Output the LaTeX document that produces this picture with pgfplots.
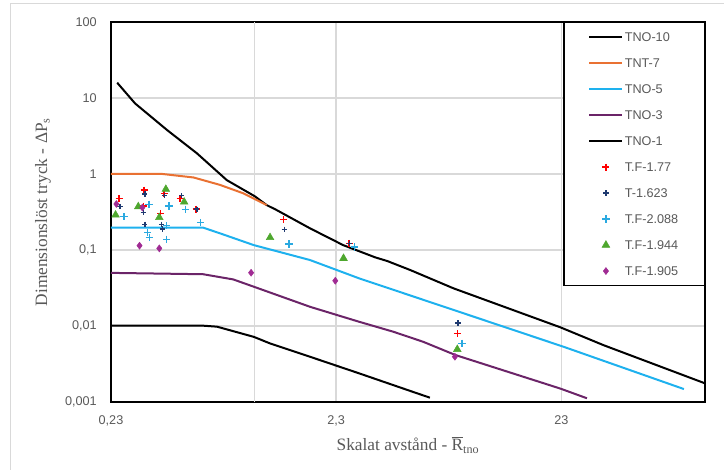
\documentclass[border=0pt]{standalone}
\usepackage{pgfplots}
\pgfplotsset{compat=1.18}
\usepackage{fontspec}
\setmainfont{Liberation Sans}
\newfontfamily\seriffont{Liberation Serif}
\definecolor{txtgray}{HTML}{595959}
\definecolor{gridgray}{HTML}{D9D9D9}
\definecolor{tntorange}{HTML}{E97132}
\definecolor{tnoblue}{HTML}{1EB1EE}
\definecolor{tnopurple}{HTML}{6B2468}
\definecolor{mred}{HTML}{FF0000}
\definecolor{mnavy}{HTML}{1F3A70}
\definecolor{mblue}{HTML}{2AA9E0}
\definecolor{mgreen}{HTML}{4EA72E}
\definecolor{mpurple}{HTML}{A02B93}
\pgfplotsset{
  mylegmark/.style={legend image code/.code={%
    \path[draw=none,fill=none] (0pt,-1pt) rectangle (24.75pt,1pt);
    \draw[##1, /tikz/only marks] plot coordinates {(12.375pt,0pt)};}},
}
\begin{document}
\begin{tikzpicture}
\useasboundingbox (0,0) rectangle (543pt,352.5pt);
\draw[gridgray, line width=0.75pt] (7.5pt,0pt) -- (7.5pt,349.5pt) -- (543pt,349.5pt);
\begin{axis}[
  at={(83.25pt,51pt)}, anchor=south west,
  scale only axis, width=445.5pt, height=285pt,
  xmode=log, ymode=log,
  xmin=0.23, xmax=100, ymin=0.001, ymax=100,
  xtick={0.23,2.3,23}, xticklabels={{0,23},{2,3},{23}},
  ytick={0.001,0.01,0.1,1,10,100},
  yticklabels={{0,001},{0,01},{0,1},{1},{10},{100}},
  minor xtick={}, minor ytick={},
  extra x ticks={1}, extra x tick labels={},
  extra x tick style={grid=major, major tick length=0pt},
  grid=major,
  major grid style={gridgray, line width=1pt},
  major tick length=0pt, minor tick length=0pt,
  axis line style={black, line width=1.5pt},
  tick label style={font=\fontsize{9.5}{11}\selectfont, text=txtgray},
  xticklabel style={inner sep=0pt, yshift=-10pt},
  yticklabel style={inner sep=0pt, xshift=-10.5pt},
  xlabel={\seriffont\fontsize{13}{15}\selectfont Skalat avstånd - $\overline{\mbox{R}}$\textsubscript{tno}},
  ylabel={\seriffont\fontsize{13}{15}\selectfont Dimensionslöst tryck - ΔP\textsubscript{s}},
  xlabel style={at={(axis description cs:0.5,-0.0912)}, anchor=north, inner sep=0pt, text=txtgray},
  ylabel style={at={(axis description cs:-0.1145,0.5)}, anchor=center, inner sep=0pt, text=txtgray},
  legend image code/.code={\draw[#1] (0pt,0pt) -- (24.75pt,0pt);},
  legend cell align=left,
  legend style={at={(1,1)}, anchor=north east, draw=black, fill=white,
    line width=1.1pt, inner xsep=18.5pt, inner ysep=1pt,
    font=\fontsize{9.5}{11}\selectfont, text=txtgray, row sep=0pt,
    nodes={inner xsep=1pt, inner ysep=0pt, text height=13pt, text depth=6.5pt}},
]
% TNO-10
\addplot[black, line width=1.5pt, mark=none] coordinates {
(0.245,15.9) (0.294,8.5) (0.408,3.79) (0.554,1.87) (0.752,0.83) (1.0,0.51) (1.13,0.39) (1.25,0.336) (1.76,0.193) (2.47,0.116) (3.43,0.080) (3.88,0.0716) (4.9,0.0546) (7.64,0.0313) (22.8,0.0096) (35.4,0.0056) (100,0.00176)
};
\addlegendentry{TNO-10}
% TNT-7
\addplot[tntorange, line width=1.5pt, mark=none] coordinates {
(0.23,1.0) (0.39,1.0) (0.535,0.90) (0.70,0.72) (0.89,0.557) (1.13,0.39)
};
\addlegendentry{TNT-7}
% TNO-5
\addplot[tnoblue, line width=1.5pt, mark=none] coordinates {
(0.23,0.197) (0.59,0.197) (0.70,0.166) (0.99,0.116) (1.76,0.0738) (2.9,0.0425) (23.5,0.00534) (80.6,0.00148)
};
\addlegendentry{TNO-5}
% TNO-3
\addplot[tnopurple, line width=1.5pt, mark=none] coordinates {
(0.23,0.05) (0.59,0.048) (0.803,0.041) (0.99,0.0329) (1.76,0.0179) (2.9,0.0114) (4.13,0.0084) (5.6,0.0062) (7.79,0.00415) (22.8,0.0015) (29.9,0.00112)
};
\addlegendentry{TNO-3}
% TNO-1
\addplot[black, line width=1.5pt, mark=none] coordinates {
(0.23,0.0101) (0.59,0.0101) (0.68,0.0098) (0.99,0.0072) (1.17,0.0059) (1.76,0.00394) (2.9,0.00239) (4.9,0.0014) (6.0,0.00114)
};
\addlegendentry{TNO-1}
% T.F-1.77
\addplot[only marks, mylegmark, mark=+, mark size=2.6pt, mred, mark options={line width=1.1pt}] coordinates {
(0.250,0.479) (0.3225,0.615) (0.396,0.557) (0.320,0.379) (0.3825,0.304) (0.466,0.479) (0.549,0.344) (1.342,0.2535) (2.629,0.1225) (7.94,0.00793)
};
\addlegendentry{T.F-1.77}
% T-1.623
\addplot[only marks, mylegmark, mark=+, mark size=2pt, mnavy, mark options={line width=1.1pt}] coordinates {
(0.252,0.372) (0.325,0.546) (0.398,0.519) (0.474,0.519) (0.320,0.313) (0.325,0.218) (0.386,0.218) (0.389,0.189) (0.553,0.344) (1.355,0.187) (2.63,0.1225) (7.99,0.0110)
};
\addlegendentry{T-1.623}
% T.F-2.088
\addplot[only marks, mylegmark, mark=+, mark size=2.75pt, mblue, mark options={line width=1pt}] coordinates {
(0.263,0.274) (0.339,0.399) (0.416,0.379) (0.492,0.344) (0.576,0.229) (0.335,0.169) (0.340,0.147) (0.407,0.138) (0.407,0.209) (1.42,0.120) (2.77,0.110) (8.33,0.0059)
};
\addlegendentry{T.F-2.088}
% T.F-1.944
\addplot[only marks, mylegmark, mark=triangle*, mark size=3.3pt, mgreen, mark options={line width=0.4pt}] coordinates {
(0.241,0.289) (0.304,0.372) (0.403,0.630) (0.486,0.429) (0.377,0.268) (1.17,0.146) (2.48,0.0778) (7.94,0.00493)
};
\addlegendentry{T.F-1.944}
% T.F-1.905
\addplot[only marks, mylegmark, mark=diamond*, mark size=2.6pt, mpurple, mark options={line width=0.4pt}] coordinates {
(0.243,0.403) (0.317,0.362) (0.308,0.114) (0.377,0.105) (0.964,0.0502) (2.28,0.0394) (7.75,0.00394)
};
\addlegendentry{T.F-1.905}
\end{axis}
\end{tikzpicture}
\end{document}
